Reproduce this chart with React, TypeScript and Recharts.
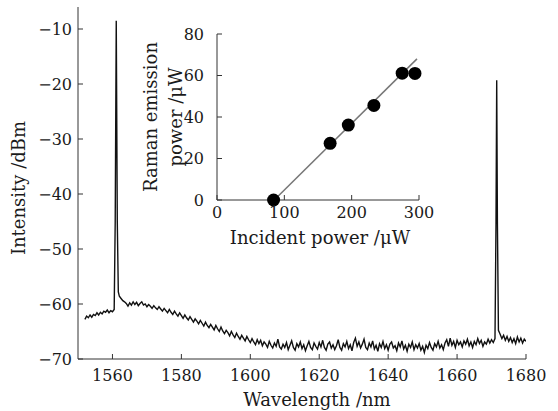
import { ComposedChart, Line, XAxis, YAxis, Scatter, Label } from 'recharts';

const FONT = '"DejaVu Serif", "Liberation Serif", serif';
const INK = '#1a1a1a';

// spectrum: wavelength (nm) and intensity (dBm)
const wavelength = [
  1552, 1552.5, 1553, 1553.5, 1554, 1554.5, 1555, 1555.5, 1556, 1556.5,
  1557, 1557.5, 1558, 1558.5, 1559, 1559.5, 1560, 1560.5, 1560.8, 1561.1,
  1561.4, 1561.7, 1562, 1562.5, 1563, 1563.5, 1564, 1564.5, 1565, 1565.5,
  1566, 1566.5, 1567, 1567.5, 1568, 1568.5, 1569, 1569.5, 1570, 1570.5,
  1571, 1571.5, 1572, 1572.5, 1573, 1573.5, 1574, 1574.5, 1575, 1575.5,
  1576, 1576.5, 1577, 1577.5, 1578, 1578.5, 1579, 1579.5, 1580, 1580.5,
  1581, 1581.5, 1582, 1582.5, 1583, 1583.5, 1584, 1584.5, 1585, 1585.5,
  1586, 1586.5, 1587, 1587.5, 1588, 1588.5, 1589, 1589.5, 1590, 1590.5,
  1591, 1591.5, 1592, 1592.5, 1593, 1593.5, 1594, 1594.5, 1595, 1595.5,
  1596, 1596.5, 1597, 1597.5, 1598, 1598.5, 1599, 1599.5, 1600, 1600.5,
  1601, 1601.5, 1602, 1602.5, 1603, 1603.5, 1604, 1604.5, 1605, 1605.5,
  1606, 1606.5, 1607, 1607.5, 1608, 1608.5, 1609, 1609.5, 1610, 1610.5,
  1611, 1611.5, 1612, 1612.5, 1613, 1613.5, 1614, 1614.5, 1615, 1615.5,
  1616, 1616.5, 1617, 1617.5, 1618, 1618.5, 1619, 1619.5, 1620, 1620.5,
  1621, 1621.5, 1622, 1622.5, 1623, 1623.5, 1624, 1624.5, 1625, 1625.5,
  1626, 1626.5, 1627, 1627.5, 1628, 1628.5, 1629, 1629.5, 1630, 1630.5,
  1631, 1631.5, 1632, 1632.5, 1633, 1633.5, 1634, 1634.5, 1635, 1635.5,
  1636, 1636.5, 1637, 1637.5, 1638, 1638.5, 1639, 1639.5, 1640, 1640.5,
  1641, 1641.5, 1642, 1642.5, 1643, 1643.5, 1644, 1644.5, 1645, 1645.5,
  1646, 1646.5, 1647, 1647.5, 1648, 1648.5, 1649, 1649.5, 1650, 1650.5,
  1651, 1651.5, 1652, 1652.5, 1653, 1653.5, 1654, 1654.5, 1655, 1655.5,
  1656, 1656.5, 1657, 1657.5, 1658, 1658.5, 1659, 1659.5, 1660, 1660.5,
  1661, 1661.5, 1662, 1662.5, 1663, 1663.5, 1664, 1664.5, 1665, 1665.5,
  1666, 1666.5, 1667, 1667.5, 1668, 1668.5, 1669, 1669.5, 1670, 1670.5,
  1671, 1671.3, 1671.5, 1671.7, 1672, 1672.5, 1673, 1673.5, 1674, 1674.5,
  1675, 1675.5, 1676, 1676.5, 1677, 1677.5, 1678, 1678.5, 1679, 1679.5,
  1680,
];
const intensity = [
  -62.8, -62.2, -62.5, -62.0, -62.4, -61.9, -62.1, -61.6, -62.0, -61.5,
  -61.8, -61.3, -61.5, -61.1, -61.6, -61.2, -61.4, -61.0, -45, -8.5,
  -45, -57.8, -58.6, -59.0, -59.4, -59.6, -59.9, -60.4, -59.8, -60.2,
  -59.6, -60.1, -59.7, -60.3, -59.9, -59.6, -60.2, -60.0, -60.5, -60.1,
  -60.4, -60.8, -60.3, -60.7, -61.0, -60.5, -60.9, -61.3, -60.8, -61.2,
  -61.6, -61.0, -61.5, -61.9, -61.3, -61.8, -62.2, -61.6, -62.1, -62.6,
  -62.0, -62.5, -62.9, -62.3, -62.8, -63.3, -62.7, -63.1, -63.6, -63.0,
  -63.5, -64.0, -63.3, -63.9, -64.3, -63.7, -64.2, -64.7, -63.9, -64.5,
  -65.0, -64.2, -64.9, -65.4, -64.8, -65.2, -65.8, -65.0, -65.6, -66.1,
  -65.3, -65.9, -66.4, -65.7, -66.2, -66.7, -65.9, -66.5, -67.0, -66.3,
  -66.9, -67.4, -66.5, -67.2, -66.6, -67.6, -66.9, -67.3, -67.9, -66.8,
  -67.5, -68.0, -67.1, -67.7, -66.4, -67.8, -68.2, -67.3, -67.9, -67.0,
  -68.3, -67.5, -66.7, -67.9, -68.4, -67.2, -67.8, -66.9, -68.1, -67.4,
  -68.5, -67.6, -66.8, -67.9, -68.3, -67.1, -67.7, -68.2, -67.0, -67.8,
  -66.6, -67.9, -68.4, -67.3, -66.9, -68.0, -67.4, -68.3, -67.6, -66.5,
  -67.9, -68.4, -67.2, -67.8, -66.8, -68.1, -67.4, -68.5, -67.0, -66.2,
  -67.7, -66.9, -68.0, -67.3, -66.4, -67.9, -68.3, -67.1, -67.8, -66.7,
  -68.2, -67.5, -68.6, -67.2, -67.9, -66.8, -68.1, -67.4, -68.4, -67.3,
  -66.9, -68.0, -67.6, -68.5, -67.1, -67.8, -66.7, -68.2, -67.5, -68.6,
  -67.3, -67.9, -66.9, -68.3, -67.4, -68.0, -67.2, -68.4, -67.7, -68.8,
  -67.5, -68.1, -67.0, -67.9, -68.4, -67.2, -67.8, -66.8, -68.0, -67.4,
  -68.3, -67.1, -66.5, -67.7, -66.2, -67.5, -66.8, -67.9, -66.6, -67.4,
  -66.9, -67.8, -66.7, -67.3, -66.4, -67.6, -66.9, -67.9, -66.8, -67.4,
  -66.3, -67.2, -66.6, -67.7, -66.9, -67.3, -66.4, -67.1, -66.5, -67.0,
  -66.3, -45, -19.3, -45, -64.8, -65.5, -66.3, -65.7, -66.6, -65.9,
  -66.8, -66.1, -67.0, -66.3, -67.2, -66.0, -66.9, -66.2, -67.1, -66.4,
  -66.8,
];
const wlTicks = [1560, 1580, 1600, 1620, 1640, 1660, 1680];
const dbTicks = [-70, -60, -50, -40, -30, -20, -10];

// inset: Raman emission vs incident power (µW)
const incidentPower = [84, 168, 195, 233, 275, 294];
const ramanPower = [0, 27.3, 36.1, 45.6, 61.1, 61.0];
const fitPower = [85, 297];
const fitRaman = [0, 68];
const powerTicks = [0, 100, 200, 300];
const ramanTicks = [0, 20, 40, 60, 80];

const spectrum = wavelength.map((wl, i) => ({ wl, db: intensity[i] }));
const points = incidentPower.map((x, i) => ({ x, y: ramanPower[i] }));
const fit = fitPower.map((x, i) => ({ x, y: fitRaman[i] }));

const minus = (v: number) => (v < 0 ? `\u2212${-v}` : `${v}`);
const tickStyle = { fill: INK, fontSize: 16, fontFamily: FONT };

const vLabel = (lines: string[], xs: number[], shift = 0) => (props: any) => {
  const vb = props.viewBox;
  const cy = vb.y + vb.height / 2 + shift;
  return (
    <g>
      {lines.map((t, i) => (
        <text key={i} x={vb.x + xs[i]} y={cy} transform={`rotate(-90 ${vb.x + xs[i]} ${cy})`}
          textAnchor="middle" dominantBaseline="central" fill={INK} fontSize={18} fontFamily={FONT}>{t}</text>
      ))}
    </g>
  );
};

const hLabel = (text: string, dx: number, dy: number) => (props: any) => {
  const vb = props.viewBox;
  return (
    <text x={vb.x + vb.width / 2 + dx} y={vb.y + dy} textAnchor="middle" dominantBaseline="central"
      fill={INK} fontSize={18} fontFamily={FONT}>{text}</text>
  );
};

const Dot = (p: any) => <circle cx={p.cx} cy={p.cy} r={6.5} fill="#000" />;

export default function App() {
  return (
    <div style={{ position: 'absolute', left: 0, top: 0, width: 558, height: 411, background: '#fff' }}>
      <ComposedChart width={558} height={411} data={spectrum} margin={{ top: 7, right: 32, bottom: 0, left: 0 }}>
        <XAxis dataKey="wl" type="number" domain={[1550, 1680]} ticks={wlTicks} height={52}
          tickSize={-5} tickMargin={16} stroke="#333" tick={tickStyle} allowDataOverflow>
          <Label content={hLabel('Wavelength /nm', 15, 40)} />
        </XAxis>
        <XAxis xAxisId="top" orientation="top" type="number" domain={[1550, 1680]} height={0}
          tick={false} tickLine={false} stroke="#333" />
        <YAxis type="number" domain={[-70, -6]} ticks={dbTicks} width={78} tickSize={-5} tickMargin={11}
          stroke="#333" tick={tickStyle} tickFormatter={minus} allowDataOverflow>
          <Label content={vLabel(['Intensity /dBm'], [18], 5)} />
        </YAxis>
        <YAxis yAxisId="right" orientation="right" type="number" domain={[-70, -6]} width={0}
          tick={false} tickLine={false} stroke="#333" />
        <Line dataKey="db" type="linear" stroke="#111" strokeWidth={1.4} dot={false} isAnimationActive={false} />
      </ComposedChart>

      <div style={{ position: 'absolute', left: 120, top: 24 }}>
        <ComposedChart width={330} height={235} margin={{ top: 10, right: 31, bottom: 0, left: 0 }}>
          <XAxis dataKey="x" type="number" domain={[0, 300]} ticks={powerTicks} height={59}
            tickSize={-5} tickMargin={12} stroke="#333" tick={tickStyle}>
            <Label content={hLabel('Incident power /\u03bcW', 2, 37)} />
          </XAxis>
          <XAxis xAxisId="top" orientation="top" type="number" domain={[0, 300]} ticks={powerTicks}
            height={0} tick={false} tickSize={-5} stroke="#333" />
          <YAxis dataKey="y" type="number" domain={[0, 80]} ticks={ramanTicks} width={97}
            tickSize={-5} tickMargin={18} stroke="#333" tick={tickStyle}>
            <Label content={vLabel(['Raman emission', 'power /\u03bcW'], [30, 55])} />
          </YAxis>
          <YAxis yAxisId="right" orientation="right" type="number" domain={[0, 80]} ticks={ramanTicks}
            width={0} tick={false} tickSize={-5} stroke="#333" />
          <Line data={fit} dataKey="y" type="linear" stroke="#777" strokeWidth={1.5} dot={false}
            isAnimationActive={false} />
          <Scatter data={points} dataKey="y" fill="#000" shape={Dot} isAnimationActive={false} />
        </ComposedChart>
      </div>
    </div>
  );
}
